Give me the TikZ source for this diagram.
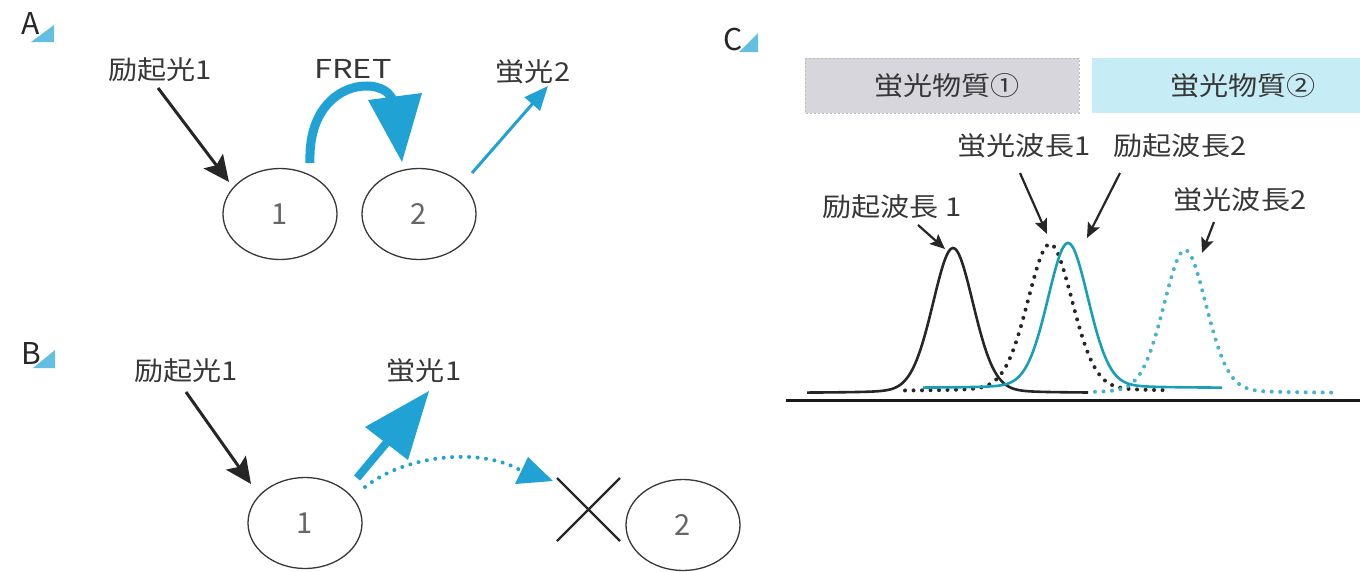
\documentclass[tikz,border=0pt]{standalone}
\usepackage{fontspec}
\newfontfamily\jp{Noto Sans CJK JP}
\usetikzlibrary{arrows.meta,shapes.geometric}
\definecolor{txt}{RGB}{55,55,55}
\definecolor{ablue}{RGB}{32,162,212}
\definecolor{ccyan}{RGB}{24,158,182}
\definecolor{dcyan}{RGB}{70,178,204}
\definecolor{gbox}{RGB}{214,214,220}
\definecolor{gboxline}{RGB}{188,188,196}
\definecolor{bbox}{RGB}{198,236,246}
\newcommand{\sx}[1]{\scalebox{1.12}[1]{#1}}
\begin{document}
\begin{tikzpicture}[x=1pt,y=-1pt,
  lbl/.style={font=\jp\fontsize{26}{30}\selectfont, text=txt, inner sep=0pt},
  panel/.style={font=\jp\fontsize{30}{34}\selectfont, text=black!85, inner sep=0pt},
  mol/.style={ellipse, draw=txt, line width=1.3pt, minimum width=114pt, minimum height=91pt, inner sep=0pt, font=\jp\fontsize{29}{32}\selectfont, text=black!60},
  blackarrow/.style={line width=3pt, draw=black!85, -{Stealth[length=26pt,width=24pt,inset=5pt]}},
  thinblue/.style={line width=3pt, draw=ablue, -{Triangle[length=24pt,width=20pt]}},
  labarrow/.style={line width=2.2pt, draw=black!85, -{Stealth[length=15pt,width=13pt,inset=3pt]}},
  bluehead/.style={fill=ablue},
  dots/.style={line width=4pt, line cap=round, dash pattern=on 0pt off 8.5pt},
  tri/.style={fill=ablue!70}
]
\useasboundingbox (0,0) rectangle (1360,571);

% ---------- Panel A ----------
\fill[tri] (31,42) -- (54,42) -- (54,25) -- cycle;
\node[panel] (pA) at (31,24) {A};
\node[lbl] (a1lbl) at (160,70) {\sx{励起光1}};
\node[lbl] (fret) at (353,69) {\scalebox{1.25}[1]{FRET}};
\node[lbl] (a2lbl) at (533,72) {\sx{蛍光2}};
\node[mol] (A1) at (280,214) {1};
\node[mol] (A2) at (419,214) {2};
\coordinate (aex0) at (158,88);
\coordinate (aex1) at (229,182);
\draw[blackarrow] (aex0) -- (aex1);
\coordinate (f0) at (310,163);
\coordinate (f1) at (393,102);
\coordinate (fa) at (368,100);
\coordinate (fb) at (422,93);
\coordinate (ftip) at (402,162);
\draw[ablue, line width=9pt] (f0) .. controls (307,76) and (388,74) .. (f1);
\fill[bluehead] (fa) -- (fb) -- (ftip) -- cycle;
\coordinate (ae0) at (472,173);
\coordinate (ae1) at (548,86);
\draw[thinblue] (ae0) -- (ae1);

% ---------- Panel B ----------
\fill[tri] (33,368) -- (55,368) -- (55,350) -- cycle;
\node[panel] (pB) at (31,353) {B};
\node[lbl] (b1lbl) at (186,371) {\sx{励起光1}};
\node[lbl] (b2lbl) at (424,371) {\sx{蛍光1}};
\node[mol] (B1) at (305,523) {1};
\node[mol] (B2) at (683,525) {2};
\coordinate (bex0) at (186,392);
\coordinate (bex1) at (251,484);
\draw[blackarrow] (bex0) -- (bex1);
\coordinate (bf0) at (357,478);
\coordinate (bf1) at (388,441);
\coordinate (bfa) at (365,427);
\coordinate (bfb) at (408,460);
\coordinate (bftip) at (429,391);
\draw[ablue, line width=8pt] (bf0) -- (bf1);
\fill[bluehead] (bfa) -- (bfb) -- (bftip) -- cycle;
\coordinate (bd0) at (365,487);
\coordinate (bd1) at (520,470);
\draw[dots, ablue] (bd0) .. controls (405,455) and (480,447) .. (bd1);
\coordinate (bda) at (515,484);
\coordinate (bdb) at (528,457);
\coordinate (bdtip) at (553,481);
\fill[bluehead] (bda) -- (bdb) -- (bdtip) -- cycle;
\coordinate (x1) at (557,478);
\coordinate (x2) at (620,541);
\coordinate (x3) at (620,478);
\coordinate (x4) at (557,541);
\draw[line width=2.4pt, black!85] (x1) -- (x2) (x3) -- (x4);

% ---------- Panel C ----------
\fill[tri] (739,52) -- (758,52) -- (758,33) -- cycle;
\node[panel] (pC) at (733,40) {C};
\fill[gbox] (805,58) rectangle (1079,113);
\draw[gboxline, line width=1pt, dash pattern=on 2pt off 2pt] (805,58) rectangle (1079,113);
\fill[bbox] (1092,58) rectangle (1360,113);
\node[lbl] (s1) at (947,86) {\sx{蛍光物質①}};
\node[lbl] (s2) at (1243,86) {\sx{蛍光物質②}};
\node[lbl] (em1) at (1024,146) {\sx{蛍光波長1}};
\node[lbl] (ex2) at (1180,146) {\sx{励起波長2}};
\node[lbl] (ex1) at (892,207) {\sx{励起波長 1}};
\node[lbl] (em2) at (1240,200) {\sx{蛍光波長2}};

% baseline
\draw[line width=3pt, black!90] (786,400) -- (1360,400);
% excitation 1 (black solid)
\draw[line width=2.6pt, black!85] plot[domain=807:1088, samples=140, smooth]
  (\x, {393 - 145*(0.85*exp(-((\x-953)/21)^2/2) + 0.15/(1+((\x-953)/21)^2))});
% emission 1 (black dotted)
\draw[dots, black!85] plot[domain=905:1165, samples=140, smooth]
  (\x, {391 - 147*(0.85*exp(-((\x-1050)/23)^2/2) + 0.15/(1+((\x-1050)/23)^2))});
% emission 2 (cyan dotted)
\draw[dots, dcyan] plot[domain=1095:1335, samples=140, smooth]
  (\x, {393 - 143*(0.85*exp(-((\x-1185)/22)^2/2) + 0.15/(1+((\x-1185)/22)^2))});
% excitation 2 (cyan solid)
\draw[line width=2.6pt, ccyan] plot[domain=923:1222, samples=160, smooth]
  (\x, {388 - 145*(0.85*exp(-((\x-1068)/21)^2/2) + 0.15/(1+((\x-1068)/21)^2))});

% label arrows
\coordinate (em1a) at (1020,173);
\coordinate (em1b) at (1047,234);
\draw[labarrow] (em1a) -- (em1b);
\coordinate (ex2a) at (1120,173);
\coordinate (ex2b) at (1087,238);
\draw[labarrow] (ex2a) -- (ex2b);
\coordinate (ex1a) at (918,225);
\coordinate (ex1b) at (945,249);
\draw[labarrow] (ex1a) -- (ex1b);
\coordinate (em2a) at (1214,222);
\coordinate (em2b) at (1202,253);
\draw[labarrow] (em2a) -- (em2b);
\end{tikzpicture}
\end{document}
